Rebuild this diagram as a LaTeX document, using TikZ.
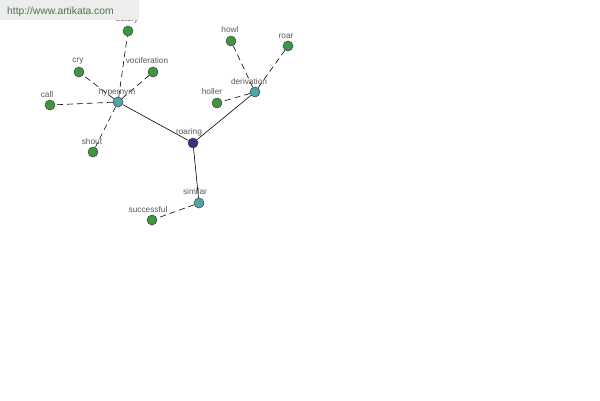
\documentclass[tikz,border=0pt]{standalone}
\usepackage{fontspec}
\setmainfont{Liberation Sans}
\usetikzlibrary{backgrounds}
\begin{document}
\begin{tikzpicture}[x=1pt,y=-1pt,
  dot/.style={circle,draw=black!75,line width=0.5pt,minimum size=10pt,inner sep=0pt},
  leaf/.style={dot,fill=green!45!black!75},
  mid/.style={dot,fill=teal!70!white},
  root/.style={dot,fill=blue!40!black!80},
  lbl/.style={font=\fontsize{8.3}{9}\selectfont,text=black!65,inner sep=0pt},
  rel/.style={line width=0.6pt,black},
  sub/.style={line width=0.6pt,black,dash pattern=on 6pt off 4pt}]
\useasboundingbox (0,0) rectangle (600,400);
% nodes
\node[root] (roaring) at (193,143) {};
\node[mid] (hypernym) at (118,102) {};
\node[mid] (derivation) at (255,92) {};
\node[mid] (similar) at (199,203) {};
\node[leaf] (outcry) at (128,31) {};
\node[leaf] (cry) at (79,72) {};
\node[leaf] (vociferation) at (153,72) {};
\node[leaf] (call) at (50,105) {};
\node[leaf] (shout) at (93,152) {};
\node[leaf] (howl) at (231,41) {};
\node[leaf] (roar) at (288,46) {};
\node[leaf] (holler) at (217,103) {};
\node[leaf] (successful) at (152,220) {};
% labels
\node[lbl] (lroaring) at (189,132) {roaring};
\node[lbl] (lhypernym) at (117,92) {hypernym};
\node[lbl] (lderivation) at (249,82) {derivation};
\node[lbl] (lsimilar) at (195,192) {similar};
\node[lbl] (loutcry) at (127,19.5) {outcry};
\node[lbl] (lcry) at (78,61) {cry};
\node[lbl] (lvoc) at (147,61) {vociferation};
\node[lbl] (lcall) at (47,95) {call};
\node[lbl] (lshout) at (92,142) {shout};
\node[lbl] (lhowl) at (230,30) {howl};
\node[lbl] (lroar) at (286,36) {roar};
\node[lbl] (lholler) at (212,92) {holler};
\node[lbl] (lsucc) at (148,210) {successful};
% edges
\begin{scope}[on background layer]
\fill[white] (0,0) rectangle (600,400);
\draw[rel] (hypernym) -- (roaring);
\draw[rel] (derivation) -- (roaring);
\draw[rel] (similar) -- (roaring);
\draw[sub] (hypernym) -- (outcry);
\draw[sub] (hypernym) -- (cry);
\draw[sub] (hypernym) -- (vociferation);
\draw[sub] (hypernym) -- (call);
\draw[sub] (hypernym) -- (shout);
\draw[sub] (derivation) -- (howl);
\draw[sub] (derivation) -- (roar);
\draw[sub] (derivation) -- (holler);
\draw[sub] (similar) -- (successful);
\end{scope}
% banner
\fill[black!7] (0,0) rectangle (139,19.5);
\node[anchor=west,inner sep=0pt,font=\fontsize{10.3}{11}\selectfont,text=green!20!black!70] (banner) at (7,11.5) {http://www.artikata.com};
\end{tikzpicture}
\end{document}
